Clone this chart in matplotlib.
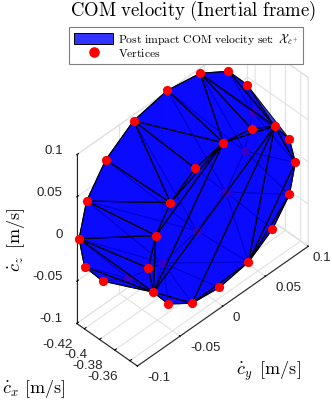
import matplotlib
matplotlib.use("Agg")
import matplotlib.pyplot as plt
from matplotlib.lines import Line2D
from matplotlib.patches import Patch
from mpl_toolkits.mplot3d import proj3d
from mpl_toolkits.mplot3d.art3d import Poly3DCollection

plt.rcParams['font.family'] = ['Liberation Sans', 'DejaVu Sans']
plt.rcParams['mathtext.fontset'] = 'cm'
plt.rcParams['axes.unicode_minus'] = False
plt.rcParams['grid.color'] = '#e2e2e2'
plt.rcParams['grid.linewidth'] = 0.8

# Vertices of the velocity set (x, y, z in m/s)
names = ['A', 'B', 'C', 'D', 'E', 'F', 'G', 'H', 'I', 'J', 'K', 'L', 'M', 'N', 'O', 'P', 'Q', 'R', 'S',
         'T', 'U', 'V', 'W', 'X', 'Y', 'Z', 'h1', 'h2', 'h3', 'h4', 'h5', 'h6']
vx = [-.428, -.426, -.422, -.426, -.430, -.426, -.418, -.414, -.366, -.358, -.350, -.350, -.350, -.350, -.350, -.358,
      -.366, -.398, -.422, -.382, -.374, -.382, -.382, -.382, -.382, -.374, -.422, -.426, -.426, -.426, -.414, -.406]
vy = [-.099, -.092, -.073, -.037, .006, .041, .067, .085, .092, .092, .078, .058, .030, -.004, -.036, -.057,
      -.067, -.098, -.098, -.050, -.066, -.033, -.004, .029, .062, .082, .099, .093, .071, .037, -.013, -.061]
vz = [.001, .042, .080, .098, .101, .099, .088, .062, .023, .000, -.023, -.050, -.069, -.075, -.071, -.062,
      -.046, -.031, -.029, -.001, -.023, .026, .046, .053, .046, .040, .014, -.030, -.063, -.085, -.080, -.059]

front_faces = ['A B T', 'B V T', 'B C V', 'C D V', 'D W V', 'D X W', 'D E X', 'E F X', 'F Y X', 'F Z Y', 'F G Z',
               'G H Z', 'X Y Z', 'W X V', 'V X T', 'T X Q', 'X Z Q', 'Q Z O', 'O Z M', 'Z J M', 'Z I J',
               'J K M', 'K L M', 'O M N', 'Q O P', 'A T U', 'T Q U', 'A U Q', 'A Q S', 'S Q R']
back_faces = ['h1 H I', 'h1 I J', 'h1 J h2', 'h2 J K', 'h2 K h3', 'h3 K L', 'h3 L M', 'h3 M h4', 'h4 M h5', 'h5 M N',
              'h5 N O', 'h5 O P', 'h5 P Q', 'h6 h5 Q', 'h6 Q R', 'h6 R S', 'h6 S A', 'h5 h6 A', 'h5 A B', 'h4 h5 B',
              'h4 B C', 'h4 C D', 'h3 h4 D', 'h3 D E', 'h2 h3 E', 'h2 E F', 'h1 h2 F', 'h1 F G', 'h1 G H']
hidden = ['h1', 'h2', 'h3', 'h4', 'h5', 'h6']

x_ticks = [-0.42, -0.4, -0.38, -0.36]
y_ticks = [-0.1, -0.05, 0, 0.05, 0.1]
z_ticks = [-0.1, -0.05, 0, 0.05, 0.1]
x_min, x_max = -0.43, -0.35
y_min, y_max = -0.1, 0.1
z_min, z_max = -0.1, 0.1

points = {n: (a, b, c) for n, a, b, c in zip(names, vx, vy, vz)}


def polys(faces):
    return [[points[n] for n in f.split()] for f in faces]


fig = plt.figure(figsize=(3.32, 4.0), dpi=100)
ax = fig.add_axes([22 / 332, 29 / 400, 1.0, 332 / 400], projection='3d', proj_type='ortho')
ax.computed_zorder = False
ax.view_init(elev=44.5, azim=-45)
ax.set_box_aspect((86, 242, 237), zoom=1.02)
# no extra margin, the box stops at the last ticks
ax.set_xlim(x_min, x_max, view_margin=0)
ax.set_ylim(y_min, y_max, view_margin=0)
ax.set_zlim(z_min, z_max, view_margin=0)

# Far side first, then hidden vertices, then the near side on top of them
back = Poly3DCollection(polys(back_faces), facecolor=(0, 0, 1, 0.8), edgecolor=(0, 0, 0, 0.9), linewidth=0.7, zorder=1)
ax.add_collection3d(back)
hid = [n for n in names if n in hidden]
ax.scatter([points[n][0] for n in hid], [points[n][1] for n in hid], [points[n][2] for n in hid],
           s=44, c='red', depthshade=False, linewidths=0, zorder=2)
front = Poly3DCollection(polys(front_faces), facecolor=(0, 0, 1, 0.8), edgecolor='black', linewidth=0.85, zorder=3)
ax.add_collection3d(front)
vis = [n for n in names if n not in hidden]
ax.scatter([points[n][0] for n in vis], [points[n][1] for n in vis], [points[n][2] for n in vis],
           s=44, c='red', depthshade=False, linewidths=0, zorder=4)

ax.set_xticks(x_ticks)
ax.set_yticks(y_ticks)
ax.set_zticks(z_ticks)
ax.set_xticklabels([])
ax.set_yticklabels([])
ax.set_zticklabels([])
ax.zaxis.set_ticks_position('lower')
for axis in (ax.xaxis, ax.yaxis, ax.zaxis):
    axis.set_pane_color((1, 1, 1, 1))
    axis.pane.set_edgecolor('#e2e2e2')
    axis.line.set_color('#262626')
    axis.line.set_linewidth(0.8)
    axis._axinfo['tick']['inward_factor'] = 0.0
    axis._axinfo['tick']['outward_factor'] = 0.12
    axis._axinfo['tick']['linewidth'] = {True: 0.8, False: 0.5}


# tick labels sit further from the axes than mplot3d would put them
def tick_label(x, y, z, text, dx, dy, ha):
    px, py, _ = proj3d.proj_transform(x, y, z, ax.get_proj())
    ax.annotate(text, (px, py), xytext=(dx, dy), textcoords='offset pixels', ha=ha, va='center',
                fontsize=9.6, color='#262626', annotation_clip=False)


for t in x_ticks:
    tick_label(t, y_min, z_min, f"{t:g}", -12, -16, 'right')
for t in y_ticks:
    tick_label(x_max, t, z_min, f"{t:g}", 10 if t < 0.1 else 4, -12, 'left')
for t in z_ticks:
    tick_label(x_min, y_min, t, f"{t:g}", -14, 4, 'right')

fig.text(193 / 332, 1 - 16 / 400, r'$\mathrm{COM\ velocity\ (Inertial\ frame)}$', fontsize=13.5, ha='center', va='baseline')
fig.text(2 / 332, 1 - 393 / 400, r'$\dot{c}_x\ [\mathrm{m/s}]$', fontsize=13, ha='left', va='baseline')
fig.text(236 / 332, 1 - 375 / 400, r'$\dot{c}_y\ \,[\mathrm{m/s}]$', fontsize=13, ha='left', va='baseline')
fig.text(16 / 332, 1 - 240 / 400, r'$\dot{c}_z\ \,[\mathrm{m/s}]$', fontsize=13, ha='center', va='center', rotation=90)

handles = [Patch(facecolor=(0, 0, 1, 0.8), edgecolor='black', linewidth=0.7),
           Line2D([], [], marker='o', linestyle='none', color='red', markersize=6.6)]
labels = [r'$\mathrm{Post\ impact\ COM\ velocity\ set\!\!:}\ \mathcal{X}_{\dot{c}^+}$', r'$\mathrm{Vertices}$']
leg = fig.legend(handles, labels, loc='upper left', bbox_to_anchor=(69 / 332, 1 - 27 / 400), fontsize=8.4,
                 fancybox=False, framealpha=1, edgecolor='#7f7f7f', borderaxespad=0, borderpad=0.4,
                 handlelength=3.4, handleheight=1.1, handletextpad=0.4, labelspacing=0.05)
leg.get_frame().set_linewidth(0.8)

plt.savefig("out.png", dpi=100)
